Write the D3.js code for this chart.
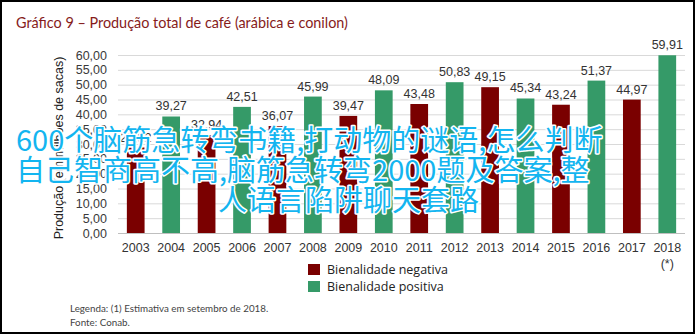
<!DOCTYPE html>
<html>
<head>
<meta charset="utf-8">
<script src="https://cdn.jsdelivr.net/npm/d3@7"></script>
<style>
  body { margin: 0; background: #fff; }
  svg { display: block; }
</style>
</head>
<body>
<svg id="chart" width="695" height="334"></svg>
<script>
const years = ['2003', '2004', '2005', '2006', '2007', '2008', '2009', '2010',
  '2011', '2012', '2013', '2014', '2015', '2016', '2017', '2018'];
const production = [28.82, 39.27, 32.94, 42.51, 36.07, 45.99, 39.47, 48.09,
  43.48, 50.83, 49.15, 45.34, 43.24, 51.37, 44.97, 59.91];
const cycle = ['neg', 'pos', 'neg', 'pos', 'neg', 'pos', 'neg', 'pos',
  'neg', 'pos', 'neg', 'pos', 'neg', 'pos', 'neg', 'pos'];
const yTicks = [0, 5, 10, 15, 20, 25, 30, 35, 40, 45, 50, 55, 60];
const legendItems = [['neg', 'Bienalidade negativa'], ['pos', 'Bienalidade positiva']];
const overlayLines = [
  '600个脑筋急转弯书籍,打动物的谜语,怎么判断',
  '自己智商高不高,脑筋急转弯2000题及答案,整',
  '人语言陷阱聊天套路'
];

const W = 695, H = 334;
const svg = d3.select('#chart');
const color = d3.scaleOrdinal().domain(['neg', 'pos']).range(['#7a0000', '#359a68']);
const fmt = v => d3.format('.2f')(v).replace('.', ',');

const x = d3.scaleBand().domain(years).range([118, 685]).paddingInner(0.5).paddingOuter(0.25);
const y = d3.scaleLinear().domain([0, 60]).range([233, 55]);

// frame
svg.append('rect')
  .attr('x', 1).attr('y', 1).attr('width', W - 2).attr('height', H - 2)
  .attr('fill', 'none').attr('stroke', '#000').attr('stroke-width', 2);

// title
svg.append('text')
  .attr('x', 16).attr('y', 28)
  .attr('font-family', 'Lato, sans-serif')
  .attr('font-size', '14.4px')
  .attr('fill', '#861b1b')
  .text('Gráfico 9 – Produção total de café (arábica e conilon)');

// grid
svg.append('g')
  .selectAll('line')
  .data(yTicks)
  .join('line')
  .attr('x1', 118).attr('x2', 685)
  .attr('y1', d => y(d) + 0.5).attr('y2', d => y(d) + 0.5)
  .attr('stroke', d => d === 0 ? '#bfbfbf' : '#d9d9d9')
  .attr('stroke-width', 1);

// y axis labels
const yAxis = svg.append('g')
  .attr('transform', 'translate(107,0)')
  .call(d3.axisLeft(y).tickValues(yTicks).tickFormat(fmt).tickSize(0).tickPadding(0));
yAxis.select('.domain').remove();
yAxis.selectAll('text')
  .attr('font-family', 'Liberation Sans, Arial, sans-serif')
  .attr('font-size', '12.5px')
  .attr('fill', '#3a3a3a');

svg.append('text')
  .attr('transform', 'translate(63,148) rotate(-90)')
  .attr('text-anchor', 'middle')
  .attr('font-family', 'Liberation Sans, Arial, sans-serif')
  .attr('font-size', '12.5px')
  .attr('fill', '#222')
  .text('Produção (em milhões de sacas)');

// bars
svg.append('g')
  .selectAll('rect')
  .data(years)
  .join('rect')
  .attr('x', d => x(d))
  .attr('width', x.bandwidth())
  .attr('y', (d, i) => y(production[i]))
  .attr('height', (d, i) => y(0) - y(production[i]))
  .attr('fill', (d, i) => color(cycle[i]));

// value labels
svg.append('g')
  .selectAll('text')
  .data(years)
  .join('text')
  .attr('x', d => x(d) + x.bandwidth() / 2)
  .attr('y', (d, i) => y(production[i]) - 6)
  .attr('text-anchor', 'middle')
  .attr('font-family', 'Liberation Sans, Arial, sans-serif')
  .attr('font-size', '12.5px')
  .attr('fill', '#333')
  .text((d, i) => fmt(production[i]));

// x axis labels
const xAxis = svg.append('g')
  .attr('transform', `translate(0,${y(0)})`)
  .call(d3.axisBottom(x).tickSize(0).tickPadding(10));
xAxis.select('.domain').remove();
xAxis.selectAll('text')
  .attr('font-family', 'Liberation Sans, Arial, sans-serif')
  .attr('font-size', '12.5px')
  .attr('fill', '#333');

svg.append('text')
  .attr('x', x('2018') + x.bandwidth() / 2).attr('y', 268)
  .attr('text-anchor', 'middle')
  .attr('font-family', 'Liberation Sans, Arial, sans-serif')
  .attr('font-size', '12.5px')
  .attr('fill', '#333')
  .text('(*)');

// legend
const legend = svg.append('g').attr('transform', 'translate(308,264)');
legendItems.forEach((d, i) => {
  const row = legend.append('g').attr('transform', `translate(0,${i * 17})`);
  row.append('rect').attr('width', 12).attr('height', 11).attr('fill', color(d[0]));
  row.append('text')
    .attr('x', 19).attr('y', 10)
    .attr('font-family', 'Open Sans, sans-serif')
    .attr('font-size', '12.5px')
    .attr('fill', '#222')
    .text(d[1]);
});

// notes
svg.append('text')
  .attr('x', 70).attr('y', 312)
  .attr('font-family', 'Lato, sans-serif')
  .attr('font-size', '9.8px')
  .attr('fill', '#444')
  .text('Legenda: (1) Estimativa em setembro de 2018.');
svg.append('text')
  .attr('x', 70).attr('y', 326)
  .attr('font-family', 'Lato, sans-serif')
  .attr('font-size', '9.8px')
  .attr('fill', '#444')
  .text('Fonte: Conab.');

// overlay text
const overlayX = [16, 16, 218];
svg.append('g')
  .selectAll('text')
  .data(overlayLines)
  .join('text')
  .attr('x', (d, i) => overlayX[i])
  .attr('y', (d, i) => 151 + i * 30)
  .attr('font-family', 'Noto Sans CJK SC, sans-serif')
  .attr('font-size', '29px')
  .attr('fill', '#13b5f0')
  .attr('stroke', '#fff')
  .attr('stroke-width', 3)
  .attr('paint-order', 'stroke')
  .attr('stroke-linejoin', 'round')
  .text(d => d);
</script>
</body>
</html>
